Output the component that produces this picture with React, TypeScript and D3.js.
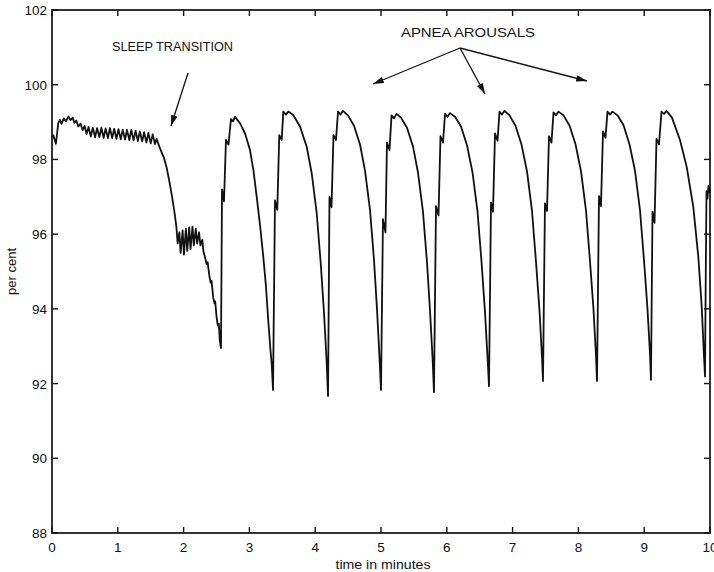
import React from "react";
import * as d3 from "d3";

// ---- data (time in minutes, saturation in per cent) ----
const awakeTrace: [number, number][] = [
  [0.0, 98.6], [0.02, 98.65], [0.06, 98.42], [0.095, 98.97], [0.12, 99.06], [0.145, 98.95],
  [0.18, 99.1], [0.21, 99.02], [0.25, 99.15], [0.28, 99.05], [0.315, 99.12], [0.34, 98.98],
  [0.37, 99.04], [0.4, 98.88], [0.435, 98.96], [0.465, 98.78], [0.495, 98.9], [0.525, 98.68],
  [0.555, 98.87], [0.59, 98.61], [0.62, 98.85], [0.655, 98.59], [0.685, 98.84], [0.72, 98.59],
  [0.75, 98.85], [0.785, 98.58], [0.815, 98.83], [0.85, 98.57], [0.88, 98.84], [0.915, 98.57],
  [0.945, 98.82], [0.98, 98.55], [1.01, 98.81], [1.045, 98.54], [1.075, 98.8], [1.11, 98.53],
  [1.14, 98.79], [1.175, 98.52], [1.205, 98.79], [1.24, 98.51], [1.27, 98.77], [1.305, 98.49],
  [1.335, 98.75], [1.37, 98.48], [1.4, 98.73], [1.435, 98.45], [1.465, 98.71], [1.5, 98.43],
  [1.53, 98.67], [1.565, 98.41], [1.59, 98.55],
];

const transitionTrace: [number, number][] = [
  [1.64, 98.3], [1.7, 98.05], [1.74, 97.8], [1.78, 97.45], [1.82, 97.05], [1.86, 96.6],
  [1.89, 96.2], [1.91, 95.75], [1.935, 96.05], [1.955, 95.5], [1.985, 96.1], [2.005, 95.45],
  [2.035, 96.15], [2.055, 95.55], [2.085, 96.18], [2.105, 95.6], [2.135, 96.2], [2.155, 95.7],
  [2.185, 96.15], [2.205, 95.75], [2.235, 96.05], [2.255, 95.7], [2.285, 95.85], [2.3, 95.55],
  [2.33, 95.35], [2.35, 95.2], [2.365, 95.25], [2.39, 94.9], [2.41, 94.7], [2.425, 94.75],
  [2.45, 94.3], [2.47, 94.15], [2.48, 94.2], [2.5, 93.8], [2.52, 93.55], [2.535, 93.6],
  [2.55, 93.15], [2.568, 92.95],
];

const arousal1: [number, number][] = [
  [2.584, 97.2], [2.614, 96.88], [2.644, 98.52], [2.682, 98.4], [2.72, 99.08], [2.751, 99.02],
  [2.781, 99.14], [2.857, 98.97], [2.933, 98.7], [3.009, 98.25], [3.062, 97.7], [3.111, 97.0],
  [3.161, 96.25], [3.211, 95.4], [3.252, 94.6], [3.286, 93.7], [3.32, 92.9], [3.338, 92.55],
  [3.359, 91.83],
];
const arousal2: [number, number][] = [
  [3.389, 96.9], [3.424, 96.65], [3.454, 98.65], [3.491, 98.52], [3.515, 99.28], [3.556, 99.2],
  [3.591, 99.28], [3.667, 99.19], [3.769, 98.88], [3.871, 98.34], [3.947, 97.63], [4.023, 96.56],
  [4.084, 95.22], [4.134, 93.89], [4.175, 92.55], [4.195, 91.67],
];
const arousal3: [number, number][] = [
  [4.217, 97.0], [4.248, 96.72], [4.278, 98.65], [4.316, 98.52], [4.347, 99.28], [4.384, 99.2],
  [4.422, 99.3], [4.498, 99.18], [4.59, 98.9], [4.681, 98.4], [4.757, 97.7], [4.833, 96.65],
  [4.894, 95.3], [4.939, 94.0], [4.98, 92.6], [5.0, 91.83],
];
const arousal4: [number, number][] = [
  [5.03, 96.4], [5.068, 96.05], [5.091, 98.45], [5.129, 98.25], [5.16, 99.18], [5.198, 99.1],
  [5.236, 99.22], [5.304, 99.12], [5.395, 98.85], [5.486, 98.35], [5.562, 97.65], [5.638, 96.6],
  [5.699, 95.25], [5.745, 93.95], [5.786, 92.6], [5.805, 91.77],
];
const arousal5: [number, number][] = [
  [5.836, 96.75], [5.874, 96.5], [5.904, 98.62], [5.942, 98.45], [5.973, 99.22], [6.011, 99.14],
  [6.049, 99.24], [6.125, 99.14], [6.216, 98.88], [6.307, 98.38], [6.391, 97.65], [6.467, 96.6],
  [6.528, 95.25], [6.581, 93.9], [6.622, 92.6], [6.641, 91.93],
];
const arousal6: [number, number][] = [
  [6.672, 96.85], [6.702, 96.6], [6.733, 98.7], [6.771, 98.5], [6.801, 99.28], [6.839, 99.2],
  [6.877, 99.3], [6.953, 99.18], [7.044, 98.9], [7.135, 98.4], [7.219, 97.68], [7.295, 96.62],
  [7.356, 95.25], [7.409, 93.95], [7.447, 92.7], [7.462, 92.07],
];
const arousal7: [number, number][] = [
  [7.492, 96.82], [7.523, 96.62], [7.553, 98.62], [7.591, 98.45], [7.622, 99.26], [7.66, 99.18],
  [7.698, 99.28], [7.774, 99.18], [7.866, 98.9], [7.957, 98.4], [8.04, 97.68], [8.116, 96.62],
  [8.176, 95.28], [8.229, 94.0], [8.267, 92.75], [8.283, 92.07],
];
const arousal8: [number, number][] = [
  [8.313, 97.02], [8.343, 96.75], [8.374, 98.75], [8.412, 98.58], [8.442, 99.28], [8.48, 99.2],
  [8.518, 99.28], [8.594, 99.18], [8.685, 98.92], [8.777, 98.4], [8.86, 97.7], [8.936, 96.64],
  [8.997, 95.3], [9.05, 94.0], [9.088, 92.8], [9.103, 92.1],
];
const arousal9: [number, number][] = [
  [9.126, 96.6], [9.157, 96.3], [9.187, 98.55], [9.225, 98.4], [9.263, 99.28], [9.301, 99.22],
  [9.339, 99.3], [9.422, 99.12], [9.544, 98.52], [9.646, 97.8], [9.746, 96.73], [9.822, 95.4],
  [9.874, 94.06], [9.909, 92.72], [9.924, 92.19],
];
const arousalTail: [number, number][] = [
  [9.936, 95.0], [9.947, 97.15], [9.962, 96.95], [9.977, 97.3], [10.0, 97.1],
];

const xTicks = [0, 1, 2, 3, 4, 5, 6, 7, 8, 9, 10];
const yTicks = [88, 90, 92, 94, 96, 98, 100, 102];

const xLabel = "time in minutes";
const yLabel = "per cent";
const sleepLabel = "SLEEP TRANSITION";
const apneaLabel = "APNEA AROUSALS";

const W = 714;
const H = 572;
const M = { left: 52, right: 710, top: 10, bottom: 533 };

export default function App() {
  const x = d3.scaleLinear().domain([0, 10]).range([M.left, M.right]);
  const y = d3.scaleLinear().domain([88, 102]).range([M.bottom, M.top]);
  const trace = [
    ...awakeTrace,
    ...transitionTrace,
    ...arousal1,
    ...arousal2,
    ...arousal3,
    ...arousal4,
    ...arousal5,
    ...arousal6,
    ...arousal7,
    ...arousal8,
    ...arousal9,
    ...arousalTail,
  ];
  const line = d3
    .line<[number, number]>()
    .x((d) => x(d[0]))
    .y((d) => y(d[1]));
  const font = "'Liberation Sans', Arial, Helvetica, sans-serif";
  const ink = "#111";
  const tl = 6;

  return (
    <svg
      width={W}
      height={H}
      style={{ position: "absolute", left: 0, top: 0, background: "#fff" }}
      fontFamily={font}
    >
      <defs>
        <marker
          id="ah"
          viewBox="0 0 10 6"
          refX={10}
          refY={3}
          markerWidth={11}
          markerHeight={6.5}
          markerUnits="userSpaceOnUse"
          orient="auto"
        >
          <path d="M0,0 L10,3 L0,6 Z" fill={ink} />
        </marker>
      </defs>
      <rect x={0} y={0} width={W} height={H} fill="#fff" />

      {/* frame */}
      <rect
        x={M.left}
        y={M.top}
        width={M.right - M.left}
        height={M.bottom - M.top}
        fill="none"
        stroke={ink}
        strokeWidth={1.7}
      />

      {/* x ticks */}
      {xTicks.map((t) => (
        <g key={"x" + t}>
          <line x1={x(t)} x2={x(t)} y1={M.bottom} y2={M.bottom - tl} stroke={ink} strokeWidth={1.4} />
          <line x1={x(t)} x2={x(t)} y1={M.top} y2={M.top + tl} stroke={ink} strokeWidth={1.4} />
          <text x={x(t)} y={M.bottom + 19} textAnchor="middle" fontSize={13.5} fill={ink}>
            {t}
          </text>
        </g>
      ))}

      {/* y ticks */}
      {yTicks.map((v) => (
        <g key={"y" + v}>
          <line x1={M.left} x2={M.left + tl} y1={y(v)} y2={y(v)} stroke={ink} strokeWidth={1.4} />
          <line x1={M.right} x2={M.right - tl} y1={y(v)} y2={y(v)} stroke={ink} strokeWidth={1.4} />
          <text x={M.left - 5} y={y(v) + 5} textAnchor="end" fontSize={13.5} fill={ink}>
            {v}
          </text>
        </g>
      ))}

      {/* axis labels */}
      <text x={383} y={569} textAnchor="middle" fontSize={13} fill={ink} textLength={95} lengthAdjust="spacingAndGlyphs">
        {xLabel}
      </text>
      <text
        transform={`translate(16, ${(M.top + M.bottom) / 2}) rotate(-90)`}
        textAnchor="middle"
        fontSize={13}
        fill={ink}
      >
        {yLabel}
      </text>

      {/* data trace */}
      <path d={line(trace) ?? ""} fill="none" stroke={ink} strokeWidth={1.8} strokeLinejoin="round" />

      {/* annotations */}
      <text x={112} y={51} fontSize={13} fill={ink} textLength={121} lengthAdjust="spacingAndGlyphs">
        {sleepLabel}
      </text>
      <line x1={188} y1={73} x2={171} y2={126} stroke={ink} strokeWidth={1.3} markerEnd="url(#ah)" />

      <text x={401} y={37} fontSize={13} fill={ink} textLength={134} lengthAdjust="spacingAndGlyphs">
        {apneaLabel}
      </text>
      <line x1={460} y1={48} x2={373} y2={84} stroke={ink} strokeWidth={1.3} markerEnd="url(#ah)" />
      <line x1={460} y1={48} x2={485} y2={94} stroke={ink} strokeWidth={1.3} markerEnd="url(#ah)" />
      <line x1={460} y1={48} x2={587} y2={81} stroke={ink} strokeWidth={1.3} markerEnd="url(#ah)" />
    </svg>
  );
}
